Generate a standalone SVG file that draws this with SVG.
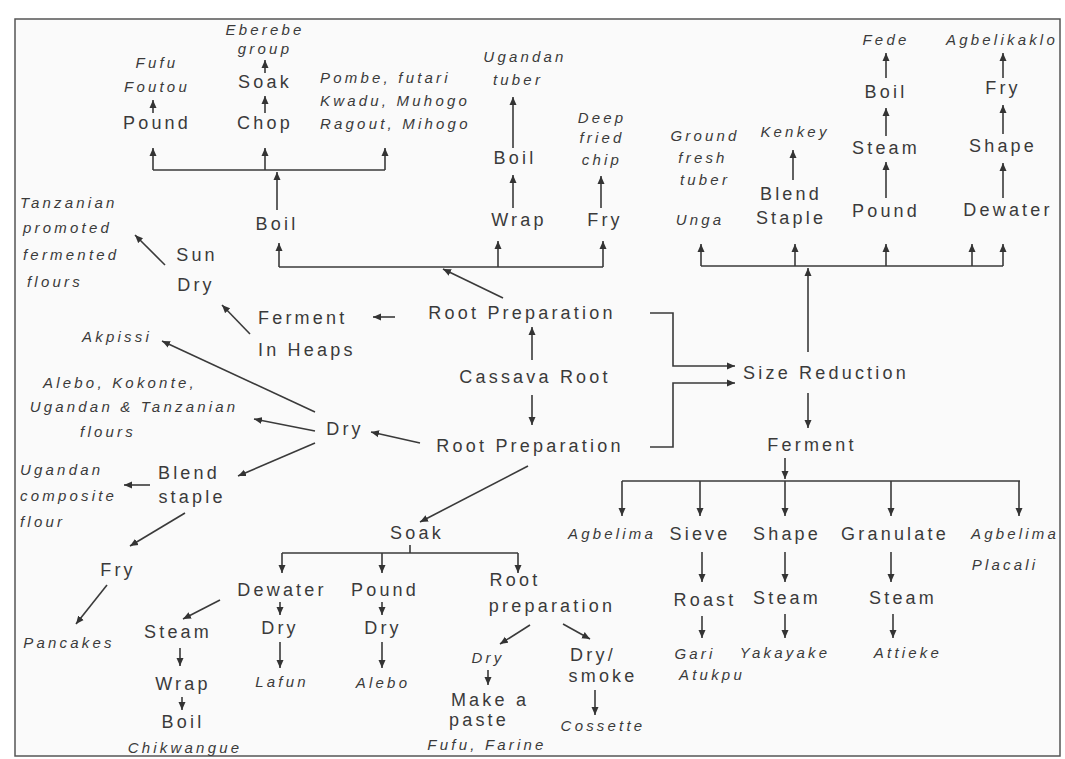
<svg xmlns="http://www.w3.org/2000/svg" width="1065" height="759" viewBox="0 0 1065 759">
<defs>
<marker id="ah" markerUnits="userSpaceOnUse" markerWidth="9" markerHeight="8" refX="8" refY="4" orient="auto">
<path d="M0,0.5 L8,4 L0,7.5 z" fill="#333"/>
</marker>
<style>
.n{font-family:"Liberation Sans",Arial,sans-serif;font-size:18px;letter-spacing:3.2px;fill:#3a3a3a;text-anchor:middle}
.p{font-family:"Liberation Sans",Arial,sans-serif;font-size:15px;font-style:italic;letter-spacing:3.2px;fill:#3a3a3a;text-anchor:middle}
.l{text-anchor:start}
.c{fill:none;stroke:#3a3a3a;stroke-width:1.6}
.a{fill:none;stroke:#3a3a3a;stroke-width:1.6;marker-end:url(#ah)}
</style>
</defs>
<rect x="0" y="0" width="1065" height="759" fill="#ffffff"/>
<rect x="15" y="19" width="1045" height="737" fill="#fafafa" stroke="#555" stroke-width="1.5"/>

<g id="connectors">
<!-- top-left tree -->
<path class="c" d="M153,170 H385"/>
<line class="a" x1="153" y1="170" x2="153" y2="148"/>
<line class="a" x1="265" y1="170" x2="265" y2="148"/>
<line class="a" x1="385" y1="170" x2="385" y2="148"/>
<line class="a" x1="277" y1="210" x2="277" y2="172"/>
<line class="a" x1="153" y1="113" x2="153" y2="100"/>
<line class="a" x1="265" y1="113" x2="265" y2="96"/>
<line class="a" x1="265" y1="73" x2="265" y2="60"/>
<line class="a" x1="513" y1="148" x2="513" y2="97"/>
<line class="a" x1="513" y1="208" x2="513" y2="175"/>
<line class="a" x1="601" y1="208" x2="601" y2="176"/>
<path class="c" d="M279,267 H603"/>
<line class="a" x1="279" y1="267" x2="279" y2="243"/>
<line class="a" x1="498" y1="267" x2="498" y2="241"/>
<line class="a" x1="603" y1="267" x2="603" y2="241"/>
<line class="a" x1="503" y1="298" x2="443" y2="269"/>
<!-- top-right tree -->
<path class="c" d="M701,266 H1003"/>
<line class="a" x1="701" y1="266" x2="701" y2="244"/>
<line class="a" x1="795" y1="266" x2="795" y2="244"/>
<line class="a" x1="886" y1="266" x2="886" y2="244"/>
<line class="a" x1="972" y1="266" x2="972" y2="244"/>
<line class="a" x1="1003" y1="266" x2="1003" y2="244"/>
<line class="a" x1="793" y1="180" x2="793" y2="150"/>
<line class="a" x1="886" y1="78" x2="886" y2="53"/>
<line class="a" x1="886" y1="136" x2="886" y2="108"/>
<line class="a" x1="886" y1="198" x2="886" y2="162"/>
<line class="a" x1="1003" y1="78" x2="1003" y2="53"/>
<line class="a" x1="1003" y1="134" x2="1003" y2="105"/>
<line class="a" x1="1003" y1="198" x2="1003" y2="163"/>
<line class="a" x1="808" y1="352" x2="808" y2="268"/>
<!-- middle -->
<line class="a" x1="395" y1="317" x2="373" y2="317"/>
<line class="a" x1="532" y1="360" x2="532" y2="327"/>
<line class="a" x1="532" y1="395" x2="532" y2="425"/>
<path class="a" d="M650,313 H673 V366 H735"/>
<path class="a" d="M650,447 H673 V383 H735"/>
<line class="a" x1="808" y1="393" x2="808" y2="428"/>
<line class="a" x1="785" y1="458" x2="785" y2="479"/>
<path class="c" d="M622,481 H1020"/>
<line class="a" x1="622" y1="481" x2="622" y2="516"/>
<line class="a" x1="700" y1="481" x2="700" y2="516"/>
<line class="a" x1="785" y1="481" x2="785" y2="516"/>
<line class="a" x1="891" y1="481" x2="891" y2="516"/>
<line class="a" x1="1019" y1="481" x2="1019" y2="516"/>
<line class="a" x1="702" y1="552" x2="702" y2="582"/>
<line class="a" x1="702" y1="616" x2="702" y2="638"/>
<line class="a" x1="785" y1="552" x2="785" y2="582"/>
<line class="a" x1="785" y1="614" x2="785" y2="638"/>
<line class="a" x1="891" y1="552" x2="891" y2="582"/>
<line class="a" x1="893" y1="614" x2="893" y2="638"/>
<!-- left -->
<line class="a" x1="165" y1="265" x2="135" y2="235"/>
<line class="a" x1="250" y1="334" x2="222" y2="305"/>
<line class="a" x1="420" y1="443" x2="371" y2="432"/>
<line class="a" x1="315" y1="412" x2="162" y2="341"/>
<line class="a" x1="315" y1="431" x2="254" y2="419"/>
<line class="a" x1="315" y1="443" x2="238" y2="476"/>
<line class="a" x1="150" y1="485" x2="124" y2="485"/>
<line class="a" x1="185" y1="513" x2="130" y2="546"/>
<line class="a" x1="107" y1="585" x2="76" y2="624"/>
<!-- bottom -->
<line class="a" x1="528" y1="466" x2="420" y2="522"/>
<line class="c" x1="410" y1="545" x2="410" y2="553"/>
<path class="c" d="M282,553 H518"/>
<line class="a" x1="282" y1="553" x2="282" y2="573"/>
<line class="a" x1="382" y1="553" x2="382" y2="573"/>
<line class="a" x1="518" y1="553" x2="518" y2="573"/>
<line class="a" x1="280" y1="602" x2="280" y2="615"/>
<line class="a" x1="280" y1="642" x2="280" y2="668"/>
<line class="a" x1="220" y1="600" x2="183" y2="619"/>
<line class="a" x1="180" y1="648" x2="180" y2="666"/>
<line class="a" x1="182" y1="697" x2="182" y2="710"/>
<line class="a" x1="382" y1="602" x2="382" y2="615"/>
<line class="a" x1="382" y1="642" x2="382" y2="668"/>
<line class="a" x1="530" y1="625" x2="500" y2="644"/>
<line class="a" x1="563" y1="624" x2="590" y2="639"/>
<line class="a" x1="488" y1="670" x2="488" y2="685"/>
<line class="a" x1="595" y1="690" x2="595" y2="715"/>
</g>

<g id="cassava-root"><text class="n" x="535" y="383">Cassava Root</text></g>
<g id="root-prep-upper"><text class="n" x="522" y="319">Root Preparation</text></g>
<g id="root-prep-lower"><text class="n" x="530" y="452">Root Preparation</text></g>
<g id="size-reduction"><text class="n" x="826" y="379">Size Reduction</text></g>
<g id="ferment"><text class="n" x="812" y="451">Ferment</text></g>

<g id="boil-a"><text class="n" x="277" y="230">Boil</text></g>
<g id="pound-a"><text class="n" x="157" y="129">Pound</text></g>
<g id="fufu-foutou"><text class="p" x="157" y="68">Fufu</text><text class="p" x="157" y="92">Foutou</text></g>
<g id="chop"><text class="n" x="265" y="129">Chop</text></g>
<g id="soak-a"><text class="n" x="265" y="88">Soak</text></g>
<g id="eberebe"><text class="p" x="265" y="35">Eberebe</text><text class="p" x="265" y="54">group</text></g>
<g id="pombe"><text class="p l" x="320" y="83">Pombe, futari</text><text class="p l" x="320" y="106">Kwadu, Muhogo</text><text class="p l" x="320" y="129">Ragout, Mihogo</text></g>
<g id="wrap-a"><text class="n" x="519" y="226">Wrap</text></g>
<g id="boil-b"><text class="n" x="515" y="164">Boil</text></g>
<g id="ugandan-tuber"><text class="p" x="525" y="62">Ugandan</text><text class="p" x="518" y="85">tuber</text></g>
<g id="fry-a"><text class="n" x="605" y="226">Fry</text></g>
<g id="deep-fried"><text class="p" x="602" y="123">Deep</text><text class="p" x="602" y="143">fried</text><text class="p" x="602" y="165">chip</text></g>

<g id="unga"><text class="p" x="700" y="225">Unga</text></g>
<g id="ground-fresh"><text class="p" x="705" y="141">Ground</text><text class="p" x="703" y="163">fresh</text><text class="p" x="705" y="185">tuber</text></g>
<g id="blend-staple-a"><text class="n" x="791" y="200">Blend</text><text class="n" x="791" y="224">Staple</text></g>
<g id="kenkey"><text class="p" x="795" y="137">Kenkey</text></g>
<g id="pound-b"><text class="n" x="886" y="217">Pound</text></g>
<g id="steam-a"><text class="n" x="886" y="154">Steam</text></g>
<g id="boil-c"><text class="n" x="886" y="98">Boil</text></g>
<g id="fede"><text class="p" x="886" y="45">Fede</text></g>
<g id="dewater-a"><text class="n" x="1008" y="216">Dewater</text></g>
<g id="shape-a"><text class="n" x="1003" y="152">Shape</text></g>
<g id="fry-b"><text class="n" x="1003" y="94">Fry</text></g>
<g id="agbelikaklo"><text class="p" x="1002" y="45">Agbelikaklo</text></g>

<g id="ferment-heaps"><text class="n l" x="258" y="324">Ferment</text><text class="n l" x="258" y="356">In Heaps</text></g>
<g id="sun-dry"><text class="n" x="197" y="261">Sun</text><text class="n" x="196" y="291">Dry</text></g>
<g id="tanzanian-fermented"><text class="p l" x="20" y="208">Tanzanian</text><text class="p l" x="23" y="233">promoted</text><text class="p l" x="23" y="260">fermented</text><text class="p l" x="27" y="287">flours</text></g>
<g id="dry-a"><text class="n" x="345" y="435">Dry</text></g>
<g id="akpissi"><text class="p" x="117" y="342">Akpissi</text></g>
<g id="alebo-flours"><text class="p" x="120" y="388">Alebo, Kokonte,</text><text class="p" x="134" y="412">Ugandan &amp; Tanzanian</text><text class="p" x="108" y="437">flours</text></g>
<g id="blend-staple-b"><text class="n" x="189" y="479">Blend</text><text class="n" x="192" y="503">staple</text></g>
<g id="ugandan-composite"><text class="p l" x="20" y="475">Ugandan</text><text class="p l" x="20" y="501">composite</text><text class="p l" x="20" y="527">flour</text></g>
<g id="fry-c"><text class="n" x="118" y="576">Fry</text></g>
<g id="pancakes"><text class="p" x="69" y="648">Pancakes</text></g>

<g id="soak-b"><text class="n" x="417" y="539">Soak</text></g>
<g id="dewater-b"><text class="n" x="282" y="596">Dewater</text></g>
<g id="dry-b"><text class="n" x="280" y="634">Dry</text></g>
<g id="lafun"><text class="p" x="282" y="687">Lafun</text></g>
<g id="steam-b"><text class="n" x="178" y="638">Steam</text></g>
<g id="wrap-b"><text class="n" x="183" y="690">Wrap</text></g>
<g id="boil-d"><text class="n" x="183" y="728">Boil</text></g>
<g id="chikwangue"><text class="p" x="185" y="753">Chikwangue</text></g>
<g id="pound-c"><text class="n" x="385" y="596">Pound</text></g>
<g id="dry-c"><text class="n" x="383" y="634">Dry</text></g>
<g id="alebo"><text class="p" x="383" y="688">Alebo</text></g>
<g id="root-preparation-b"><text class="n" x="515" y="586">Root</text><text class="n" x="552" y="612">preparation</text></g>
<g id="dry-d"><text class="p" x="488" y="663">Dry</text></g>
<g id="make-paste"><text class="n" x="490" y="706">Make a</text><text class="n" x="479" y="726">paste</text></g>
<g id="fufu-farine"><text class="p" x="487" y="750">Fufu, Farine</text></g>
<g id="dry-smoke"><text class="n" x="593" y="661">Dry/</text><text class="n" x="603" y="682">smoke</text></g>
<g id="cossette"><text class="p" x="603" y="731">Cossette</text></g>

<g id="agbelima-a"><text class="p" x="612" y="539">Agbelima</text></g>
<g id="sieve"><text class="n" x="700" y="540">Sieve</text></g>
<g id="roast"><text class="n" x="705" y="606">Roast</text></g>
<g id="gari"><text class="p" x="695" y="659">Gari</text><text class="p" x="712" y="680">Atukpu</text></g>
<g id="shape-b"><text class="n" x="787" y="540">Shape</text></g>
<g id="steam-c"><text class="n" x="787" y="604">Steam</text></g>
<g id="yakayake"><text class="p" x="785" y="658">Yakayake</text></g>
<g id="granulate"><text class="n" x="895" y="540">Granulate</text></g>
<g id="steam-d"><text class="n" x="903" y="604">Steam</text></g>
<g id="attieke"><text class="p" x="908" y="658">Attieke</text></g>
<g id="agbelima-b"><text class="p" x="1015" y="539">Agbelima</text><text class="p" x="1005" y="570">Placali</text></g>
</svg>
